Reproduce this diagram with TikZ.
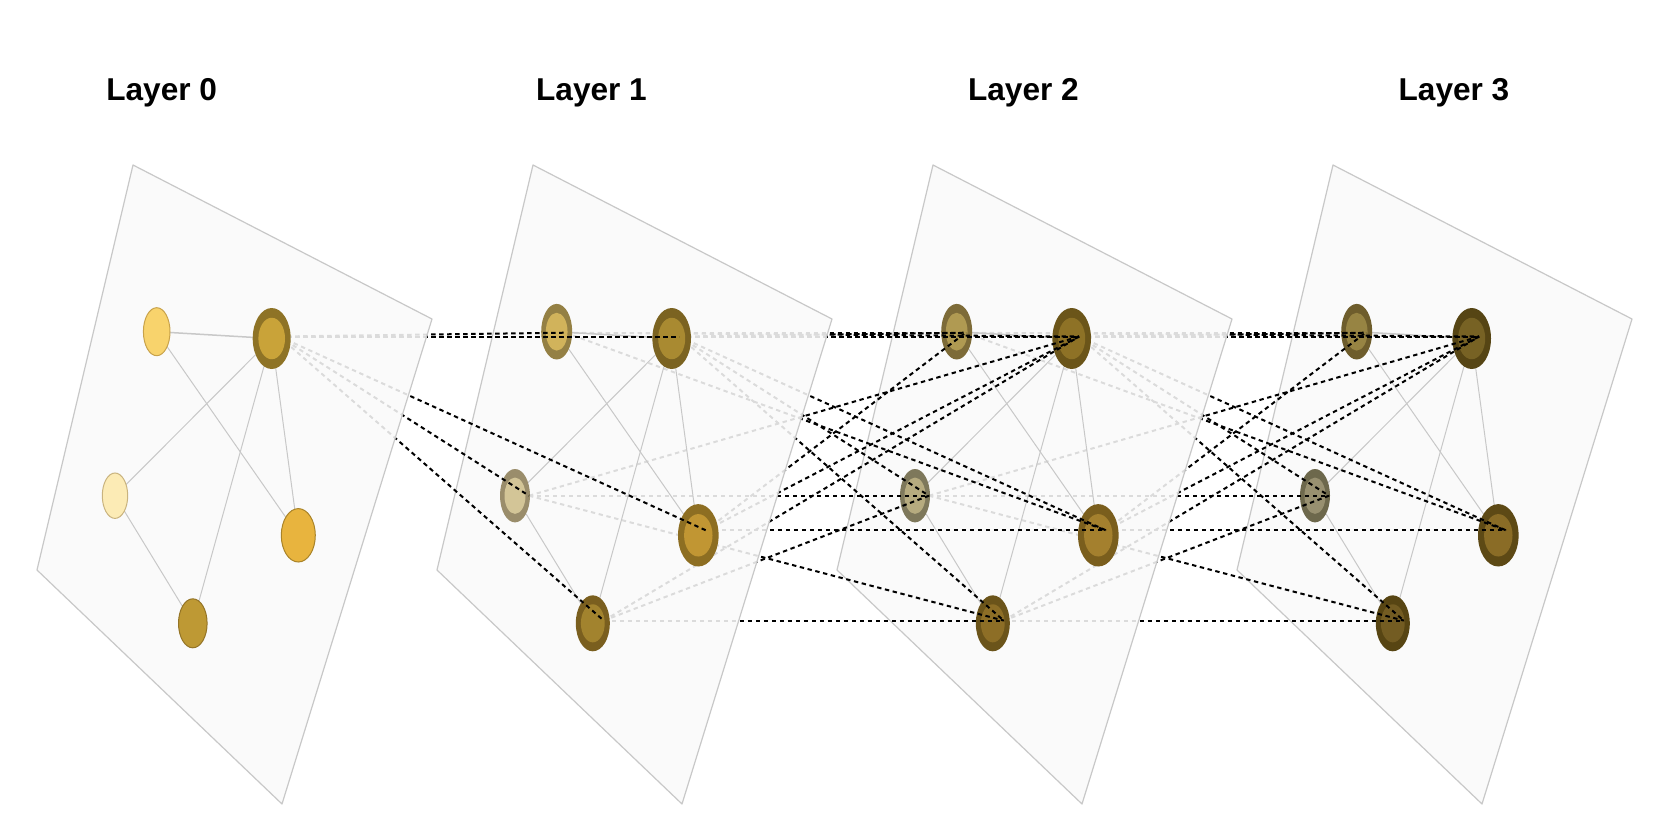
\documentclass[tikz,border=0pt]{standalone}
\usepackage{fontspec}
\setmainfont{Liberation Sans}
\usetikzlibrary{calc,shapes.geometric}
\definecolor{planefill}{HTML}{FAFAFA}
\definecolor{planeedge}{HTML}{C8C8C8}
\definecolor{edgegray}{HTML}{C8C8C8}
% layer 0
\definecolor{a0f}{HTML}{F8D36C}\definecolor{a0d}{HTML}{C8A24A}
\definecolor{b0o}{HTML}{8E7326}\definecolor{b0i}{HTML}{C9A339}
\definecolor{c0f}{HTML}{FCEBB5}\definecolor{c0d}{HTML}{C9B37E}
\definecolor{d0f}{HTML}{E8B43E}\definecolor{d0d}{HTML}{A98328}
\definecolor{e0f}{HTML}{BE9934}\definecolor{e0d}{HTML}{947426}
% layer 1
\definecolor{a1o}{HTML}{948044}\definecolor{a1i}{HTML}{D1B35B}
\definecolor{b1o}{HTML}{7B6321}\definecolor{b1i}{HTML}{A98A31}
\definecolor{c1o}{HTML}{9A8D6B}\definecolor{c1i}{HTML}{D3C597}
\definecolor{d1o}{HTML}{8D6E22}\definecolor{d1i}{HTML}{C19633}
\definecolor{e1o}{HTML}{7A5F1F}\definecolor{e1i}{HTML}{A2832E}
% layer 2
\definecolor{a2o}{HTML}{7D6B38}\definecolor{a2i}{HTML}{B09A52}
\definecolor{b2o}{HTML}{6B5519}\definecolor{b2i}{HTML}{8E7226}
\definecolor{c2o}{HTML}{7E785B}\definecolor{c2i}{HTML}{B6AB7F}
\definecolor{d2o}{HTML}{7A5E1D}\definecolor{d2i}{HTML}{A4802E}
\definecolor{e2o}{HTML}{6B541A}\definecolor{e2i}{HTML}{8D6E26}
% layer 3
\definecolor{a3o}{HTML}{6E5D2C}\definecolor{a3i}{HTML}{978443}
\definecolor{b3o}{HTML}{564514}\definecolor{b3i}{HTML}{776224}
\definecolor{c3o}{HTML}{6D684C}\definecolor{c3i}{HTML}{989070}
\definecolor{d3o}{HTML}{5D4915}\definecolor{d3i}{HTML}{8A6C26}
\definecolor{e3o}{HTML}{574513}\definecolor{e3i}{HTML}{735C22}

\pgfdeclarelayer{bg}
\pgfdeclarelayer{p3}\pgfdeclarelayer{e3}\pgfdeclarelayer{n3}\pgfdeclarelayer{i23}
\pgfdeclarelayer{p2}\pgfdeclarelayer{e2}\pgfdeclarelayer{n2}\pgfdeclarelayer{i12}
\pgfdeclarelayer{p1}\pgfdeclarelayer{e1}\pgfdeclarelayer{n1}\pgfdeclarelayer{i01}
\pgfdeclarelayer{p0}\pgfdeclarelayer{e0}\pgfdeclarelayer{n0}
\pgfsetlayers{bg,p3,e3,n3,i23,p2,e2,n2,i12,p1,e1,n1,i01,p0,e0,n0,main}

\newcommand\RingNode[8]{% layer, name, x, y, rx, ry, outer, inner
  \begin{pgfonlayer}{#1}
  \node[ellipse, inner sep=0pt, outer sep=0pt, fill=#7, minimum width=#5pt, minimum height=#6pt] (#2) at (#3,#4) {};
  \fill[#8] (#2.center) ellipse [x radius={0.7*#5}, y radius={0.68*#6}];
  \end{pgfonlayer}}
\newcommand\PlainNode[8]{% layer, name, x, y, rx, ry, fill, draw
  \begin{pgfonlayer}{#1}
  \node[ellipse, inner sep=0pt, outer sep=0pt, fill=#7, draw=#8, line width=0.5pt, minimum width=#5pt, minimum height=#6pt] (#2) at (#3,#4) {};
  \end{pgfonlayer}}
\newcommand\PlaneAt[3]{% layer, name, xshift
  \begin{pgfonlayer}{#1}
  \path[plane] (133+#3,165) coordinate (#2t) -- (432+#3,319) coordinate (#2r) -- (282+#3,804) coordinate (#2b) -- (37+#3,570) coordinate (#2l) -- cycle;
  \end{pgfonlayer}}
\newcommand\IntraEdges[2]{% layer, k
  \begin{pgfonlayer}{#1}
  \draw[intra, line width=0.75pt] (A#2) -- (B#2);
  \draw[intra] (A#2) -- (D#2);
  \draw[intra] (B#2) -- (C#2);
  \draw[intra] (B#2) -- (D#2);
  \draw[intra] (B#2) -- (E#2);
  \draw[intra] (C#2) -- (E#2);
  \end{pgfonlayer}}
\newcommand\Anchors[1]{%
  \coordinate (A#1a) at ($(A#1)+(9,1)$);
  \coordinate (B#1a) at ($(B#1)+(7.5,-2)$);
  \coordinate (C#1a) at ($(C#1)+(14,0)$);
  \coordinate (D#1a) at ($(D#1)+(7.5,-5)$);
  \coordinate (E#1a) at ($(E#1)+(11,-2.7)$);}
\newcommand\InterEdges[3]{% layer, k, k+1
  \begin{pgfonlayer}{#1}
  \foreach \s/\t in {A/A,A/B,A/D,B/A,B/B,B/C,B/D,B/E,C/B,C/C,C/E,D/A,D/B,D/D,E/B,E/C,E/E}
    {\draw[inter] (\s#2a) -- (\t#3a);}
  \end{pgfonlayer}}

\begin{document}
\begin{tikzpicture}[x=0.5pt,y=-0.5pt,
  plane/.style={fill=planefill, fill opacity=0.88, draw=planeedge, line width=0.6pt, line join=round},
  intra/.style={draw=edgegray, line width=0.5pt},
  inter/.style={draw=black, line width=1pt, dash pattern=on 2.2pt off 1.8pt},
  title/.style={font=\bfseries\fontsize{15.8pt}{19pt}\selectfont, anchor=base, inner sep=0pt}]
\begin{pgfonlayer}{bg}
\fill[white] (0,0) rectangle (1672,830);
\end{pgfonlayer}
\useasboundingbox (0,0) rectangle (1672,830);

% titles
\node[title] (t0) at (161.7,100) {Layer 0};
\node[title] (t1) at (591.5,100) {Layer 1};
\node[title] (t2) at (1023.4,100) {Layer 2};
\node[title] (t3) at (1454,100) {Layer 3};

% planes
\PlaneAt{p0}{P0}{0}
\PlaneAt{p1}{P1}{400}
\PlaneAt{p2}{P2}{800}
\PlaneAt{p3}{P3}{1200}

% layer 0 nodes
\PlainNode{n0}{A0}{156.7}{331.7}{13.3}{24}{a0f}{a0d}
\RingNode{n0}{B0}{271.7}{338.5}{19}{30.5}{b0o}{b0i}
\PlainNode{n0}{C0}{115}{495.7}{12.7}{22.7}{c0f}{c0d}
\PlainNode{n0}{D0}{298.3}{535.3}{17}{26.7}{d0f}{d0d}
\PlainNode{n0}{E0}{192.8}{623.3}{14.3}{24.5}{e0f}{e0d}
% layer 1 nodes
\RingNode{n1}{A1}{556.7}{331.7}{15.5}{27.8}{a1o}{a1i}
\RingNode{n1}{B1}{671.7}{338.5}{19.3}{30.5}{b1o}{b1i}
\RingNode{n1}{C1}{515}{495.7}{15}{26.7}{c1o}{c1i}
\RingNode{n1}{D1}{698.3}{535.3}{20.3}{31.2}{d1o}{d1i}
\RingNode{n1}{E1}{592.8}{623.3}{17}{28}{e1o}{e1i}
% layer 2 nodes
\RingNode{n2}{A2}{956.7}{331.7}{15.5}{27.8}{a2o}{a2i}
\RingNode{n2}{B2}{1071.7}{338.5}{19.3}{30.5}{b2o}{b2i}
\RingNode{n2}{C2}{915}{495.7}{15}{26.7}{c2o}{c2i}
\RingNode{n2}{D2}{1098.3}{535.3}{20.3}{31.2}{d2o}{d2i}
\RingNode{n2}{E2}{992.8}{623.3}{17}{28}{e2o}{e2i}
% layer 3 nodes
\RingNode{n3}{A3}{1356.7}{331.7}{15.5}{27.8}{a3o}{a3i}
\RingNode{n3}{B3}{1471.7}{338.5}{19.3}{30.5}{b3o}{b3i}
\RingNode{n3}{C3}{1315}{495.7}{15}{26.7}{c3o}{c3i}
\RingNode{n3}{D3}{1498.3}{535.3}{20.3}{31.2}{d3o}{d3i}
\RingNode{n3}{E3}{1392.8}{623.3}{17}{28}{e3o}{e3i}

\Anchors{0}\Anchors{1}\Anchors{2}\Anchors{3}

% edges within layers
\IntraEdges{e0}{0}
\IntraEdges{e1}{1}
\IntraEdges{e2}{2}
\IntraEdges{e3}{3}

% edges between layers
\begin{pgfonlayer}{i01}
\foreach \t in {A,B,C,D,E} {\draw[inter] (B0a) -- (\t1a);}
\end{pgfonlayer}
\InterEdges{i12}{1}{2}
\InterEdges{i23}{2}{3}
\end{tikzpicture}
\end{document}
